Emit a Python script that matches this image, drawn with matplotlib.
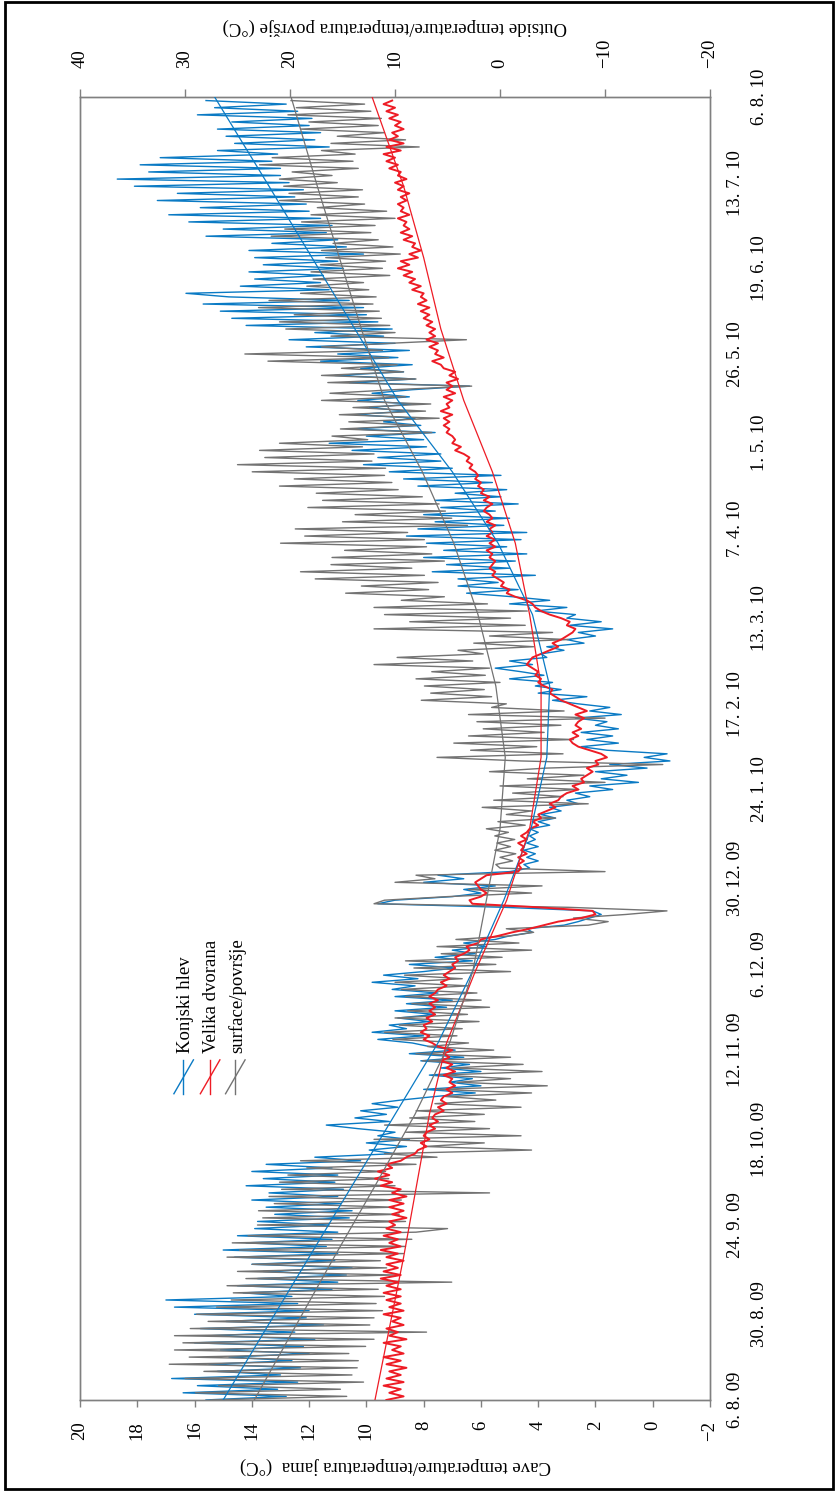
import numpy as np
import pandas as pd
import matplotlib
matplotlib.use("Agg")
import matplotlib.pyplot as plt
from matplotlib.lines import Line2D

# daily readings starting 6. 8. 2009 (cave in degC, surface in degC)
konjski_hlev = [
    15.6, 12.8, 16.4, 13.1, 15.9, 12.4, 16.8, 13.0, 15.2, 12.3,
    15.5, 12.6, 14.8, 12.0, 15.1, 12.2, 16.0, 11.8, 15.4, 12.5,
    15.8, 11.5, 14.9, 12.1, 16.0, 12.0, 16.7, 12.4, 17.0, 12.6,
    14.3, 11.2, 14.5, 11.0, 13.8, 10.7, 13.6, 10.5, 14.0, 11.1,
    14.6, 11.0, 15.0, 11.4, 14.2, 11.2, 14.5, 11.0, 13.9, 11.3,
    13.8, 10.6, 13.2, 10.5, 13.5, 10.9, 14.0, 11.0, 13.4, 10.8,
    14.2, 11.1, 13.6, 11.0, 14.0, 11.2, 13.5, 10.2, 11.8, 9.0,
    9.9, 8.6, 10.0, 8.5, 9.6, 9.0, 10.3, 11.4, 9.2, 10.4,
    9.3, 10.2, 8.9, 9.8, 8.8, 7.6, 6.2, 8.0, 6.0, 7.1,
    6.3, 7.8, 6.0, 7.4, 6.4, 8.1, 6.6, 8.5, 6.9, 7.8,
    8.4, 9.6, 8.0, 9.8, 8.6, 9.2, 7.8, 8.9, 7.6, 9.0,
    7.2, 8.6, 7.0, 9.0, 7.5, 9.1, 8.3, 9.8, 8.2, 9.4,
    8.0, 6.9, 8.5, 6.3, 7.6, 6.2, 7.0, 5.8, 6.6, 5.5,
    5.0, 4.2, 4.4, 3.1, 2.6, 2.2, 1.8, 2.1, 5.2, 9.6,
    9.0, 7.0, 6.0, 6.6, 5.5, 8.0, 6.6, 7.5, 5.0, 4.3,
    4.5, 4.0, 4.4, 4.1, 4.5, 4.0, 4.4, 4.1, 4.3, 4.0,
    4.3, 3.6, 4.0, 3.4, 3.9, 3.2, 3.6, 2.6, 3.0, 2.2,
    2.7, 1.4, 2.2, 0.5, 1.8, 0.9, 2.0, 0.2, 1.5, -0.6,
    0.3, -0.5, 1.6, 2.5, 1.2, 2.3, 1.4, 2.5, 1.2, 2.0,
    1.6, 2.7, 1.1, 2.2, 1.5, 2.6, 3.5, 2.3, 4.0, 3.2,
    4.1, 3.5, 5.0, 3.8, 4.6, 5.5, 4.2, 5.0, 3.7, 3.9,
    3.1, 3.7, 2.4, 3.0, 2.0, 2.6, 1.4, 2.9, 1.8, 3.0,
    2.7, 4.1, 3.0, 5.0, 3.6, 4.9, 6.5, 4.7, 6.8, 5.4,
    6.8, 4.1, 7.7, 5.0, 7.2, 4.8, 8.0, 4.4, 7.3, 5.1,
    7.9, 4.6, 8.6, 4.4, 8.2, 5.2, 7.6, 5.0, 8.0, 5.5,
    7.4, 4.7, 7.6, 5.3, 6.9, 5.1, 8.2, 5.6, 8.7, 5.3,
    9.2, 7.0, 10.1, 7.4, 9.6, 7.4, 10.5, 7.9, 11.3, 8.0,
    10.0, 7.6, 10.5, 8.1, 9.4, 8.3, 10.4, 8.6, 9.9, 8.4,
    10.3, 8.5, 9.8, 8.4, 6.4, 10.6, 8.3, 11.1, 8.7, 10.2,
    8.4, 11.6, 8.9, 11.0, 8.5, 12.1, 9.0, 12.7, 9.4, 11.8,
    9.1, 14.2, 9.6, 14.7, 10.0, 15.1, 10.1, 15.7, 10.6, 14.8,
    16.3, 11.3, 14.4, 11.6, 13.9, 11.5, 14.1, 10.8, 13.6, 11.0,
    13.9, 10.1, 14.1, 10.7, 13.3, 11.0, 15.6, 11.4, 15.0, 11.2,
    16.2, 11.6, 16.9, 12.0, 15.8, 12.1, 17.3, 12.5, 16.6, 12.2,
    18.1, 12.7, 18.7, 13.0, 17.6, 13.0, 17.9, 13.3, 17.2, 13.1,
    15.2, 11.3, 14.6, 11.8, 14.9, 11.6, 15.2, 12.0, 14.7, 11.9,
    15.9, 12.4, 15.3, 12.8, 15.6,
]

velika_dvorana = [
    9.3, 8.7, 9.2, 8.8, 9.4, 8.7, 9.3, 8.8, 9.2, 8.6,
    9.3, 8.8, 9.4, 8.7, 9.1, 8.8, 9.4, 8.6, 9.2, 8.9,
    9.3, 8.7, 9.1, 8.8, 9.4, 8.7, 9.2, 8.8, 9.3, 8.8,
    9.4, 8.8, 9.3, 8.9, 9.5, 8.8, 9.4, 8.9, 9.3, 8.7,
    9.3, 8.9, 9.5, 8.8, 9.2, 8.9, 9.4, 8.8, 9.3, 9.0,
    9.2, 8.6, 9.1, 8.7, 9.2, 8.7, 9.2, 8.6, 9.1, 8.8,
    9.5, 9.1, 9.7, 9.2, 9.6, 9.1, 9.3, 8.8, 8.6, 8.3,
    8.2, 7.9, 8.1, 7.8, 8.0, 7.9, 7.6, 7.8, 7.5, 7.7,
    7.6, 7.3, 7.5, 7.2, 7.4, 7.3, 7.0, 7.2, 6.9, 7.1,
    7.0, 7.3, 6.9, 7.2, 7.0, 7.4, 7.1, 7.3, 7.0, 7.5,
    7.7, 8.0, 7.8, 8.1, 7.9, 8.0, 7.7, 7.9, 7.6, 7.8,
    7.6, 7.8, 7.5, 7.8, 7.6, 7.5, 7.2, 7.4, 7.1, 7.3,
    7.1, 6.9, 7.0, 6.8, 6.9, 6.6, 6.4, 6.5, 6.1, 6.0,
    5.4, 4.9, 4.3, 3.8, 3.3, 2.5, 2.0, 2.1, 4.0, 6.3,
    6.4, 6.0, 5.8, 6.0, 6.1, 6.2, 6.0, 5.8, 4.7, 4.6,
    4.7, 4.5, 4.7, 4.4, 4.6, 4.5, 4.7, 4.4, 4.6, 4.4,
    4.3, 4.0, 4.2, 3.9, 4.0, 3.7, 3.4, 3.6, 3.3, 3.2,
    3.0, 2.6, 2.8, 2.4, 2.5, 2.3, 2.1, 2.3, 1.9, 2.0,
    1.6, 1.8, 2.2, 2.6, 2.8, 2.9, 2.6, 2.8, 2.5, 2.7,
    2.6, 2.4, 2.7, 2.3, 2.6, 2.9, 3.2, 3.4, 3.6, 3.5,
    3.8, 4.0, 3.9, 4.1, 4.0, 4.2, 4.4, 4.3, 4.2, 3.9,
    3.6, 3.3, 3.5, 3.2, 3.0, 2.8, 2.7, 3.0, 2.9, 3.2,
    3.6, 3.9, 4.1, 4.2, 4.4, 4.8, 5.1, 5.0, 5.3, 5.2,
    5.4, 5.6, 5.5, 5.7, 5.6, 5.5, 5.7, 5.6, 5.8, 5.5,
    5.7, 5.5, 5.8, 5.6, 5.7, 5.5, 5.8, 5.6, 5.7, 5.9,
    5.8, 5.6, 5.9, 5.7, 6.0, 5.9, 6.1, 6.0, 6.2, 6.1,
    6.2, 6.4, 6.3, 6.5, 6.4, 6.6, 6.9, 6.7, 7.0, 6.9,
    7.0, 7.2, 7.1, 7.3, 7.1, 7.3, 7.0, 7.4, 7.1, 7.2,
    7.0, 7.3, 6.9, 7.2, 7.0, 7.2, 6.8, 7.1, 6.9, 7.3,
    7.4, 7.7, 7.3, 7.6, 7.5, 7.8, 7.5, 7.9, 7.6, 7.8,
    7.6, 7.9, 7.7, 8.0, 7.8, 8.1, 7.8, 8.2, 7.9, 8.1,
    8.0, 8.4, 8.1, 8.5, 8.3, 8.7, 8.4, 8.9, 8.5, 8.8,
    8.2, 8.5, 8.1, 8.4, 8.3, 8.7, 8.4, 8.8, 8.5, 8.7,
    8.6, 8.9, 8.5, 8.8, 8.7, 8.9, 8.6, 8.8, 8.5, 8.9,
    8.7, 9.0, 8.6, 8.9, 8.8, 9.2, 8.9, 9.3, 9.0, 9.4,
    8.8, 9.3, 8.7, 9.2, 8.9, 9.1, 8.7, 9.0, 8.8, 9.2,
    8.9, 9.3, 9.0, 9.4, 9.1,
]

surface = [
    27.5, 14.6, 29.0, 15.2, 26.8, 13.0, 30.0, 14.1, 28.2, 13.6,
    31.5, 13.5, 29.6, 14.4, 31.0, 12.8, 30.2, 12.0, 31.0, 7.0,
    29.5, 12.4, 27.8, 12.0, 28.9, 11.2, 27.0, 11.8, 25.6, 11.0,
    25.4, 11.6, 26.0, 4.6, 24.2, 10.0, 25.0, 10.8, 23.6, 11.4,
    26.0, 9.2, 24.8, 9.0, 25.5, 8.4, 24.0, 8.0, 5.0, 23.1,
    9.0, 22.6, 9.6, 23.0, 10.1, 21.5, 9.4, 22.0, 1.0, 20.8,
    10.0, 21.0, 10.6, 20.2, 10.9, 18.4, 8.0, 19.0, 6.0, 11.0,
    -3.0, 7.2, 1.5, 12.0, -2.0, 9.0, 1.0, 11.0, 2.4, 8.6,
    1.5, 8.0, -2.0, 6.2, 0.4, 5.2, -3.0, 6.0, -4.5, 4.1,
    -1.0, 5.8, -4.0, 4.6, -2.2, 7.4, -1.0, 8.0, 0.6, 6.9,
    3.0, 10.2, 4.1, 11.0, 3.6, 9.6, 2.0, 10.0, 3.1, 8.8,
    1.0, 8.4, 1.8, 9.0, 2.2, 9.4, 3.0, 10.0, 3.6, 9.1,
    -1.0, 8.2, 0.4, 9.0, -0.2, 5.6, -3.0, 6.0, -1.8, 4.2,
    -1.0, -3.2, -0.6, -8.4, -10.3, -7.0, -12.0, -15.9, -6.5, 12.0,
    11.0, 5.0, -3.0, 3.0, -4.0, 10.0, 6.2, 8.0, -10.0, 0.0,
    0.4, -1.2, 0.0, -1.5, 0.5, -1.0, 0.3, -1.4, 0.5, -0.8,
    1.3, -2.4, 0.2, -5.3, -0.6, -3.0, 1.7, -8.4, 0.6, -6.0,
    -1.2, -7.5, 0.0, -10.0, -2.6, -8.0, 1.0, -4.4, -15.5, -2.0,
    6.0, -6.0, 2.8, -3.5, 4.4, -7.0, 3.0, -4.2, 1.6, -5.8,
    2.2, -10.0, 3.0, -6.1, 0.8, -0.6, 7.5, 0.8, 6.6, 1.5,
    7.2, 0.0, 8.0, 1.4, 6.5, 1.0, 12.0, 2.6, 9.8, 1.6,
    4.0, -3.2, 2.5, -6.5, 1.0, -5.0, 12.0, -2.4, 8.6, -1.0,
    11.0, -2.6, 12.0, 1.2, 9.4, 5.3, 14.7, 6.8, 13.2, 5.9,
    17.6, 7.2, 19.0, 8.4, 16.1, 5.3, 16.0, 6.5, 14.8, 7.0,
    20.9, 7.2, 18.6, 8.8, 19.5, 3.1, 15.0, 4.6, 13.8, 5.2,
    18.3, 5.8, 16.9, 7.4, 17.5, 9.7, 21.0, 10.3, 19.6, 11.0,
    23.6, 10.9, 25.0, 12.2, 22.4, 12.0, 22.9, 13.1, 21.0, 12.6,
    16.0, 6.5, 15.2, 8.0, 14.4, 5.8, 15.3, 7.1, 14.0, 6.6,
    17.0, 9.0, 16.2, 10.1, 2.7, 16.4, 8.0, 17.0, 9.2, 15.1,
    9.8, 22.1, 10.6, 24.3, 11.2, 17.0, 10.5, 3.2, 16.1, 10.0,
    20.4, 10.5, 21.0, 11.3, 19.6, 11.5, 23.0, 12.1, 22.0, 11.8,
    19.0, 12.5, 18.4, 13.0, 17.8, 10.5, 18.0, 11.2, 17.1, 10.9,
    16.6, 9.5, 17.0, 10.2, 15.9, 11.6, 21.8, 12.3, 20.5, 11.9,
    18.9, 10.0, 18.0, 10.8, 17.4, 12.9, 21.0, 13.5, 20.1, 13.1,
    20.6, 15.5, 21.0, 16.0, 19.8, 13.5, 22.9, 14.0, 21.7, 13.8,
    17.0, 7.7, 16.1, 9.0, 15.5, 11.0, 19.0, 11.6, 18.2, 11.3,
    20.2, 12.3, 19.4, 12.9, 19.9,
]

# trend lines (days after 6. 8. 09)
trend_days = [0, 20, 40, 60, 80, 100, 120, 140, 160, 180, 200, 220, 240, 260, 280,
              300, 320, 340, 365]
konjski_trend = [15.0, 13.5, 12.0, 10.5, 9.0, 7.5, 6.3, 5.2, 4.25, 3.7, 3.6, 4.2, 5.4,
                 7.0, 8.9, 10.4, 11.9, 13.4, 15.3]
dvorana_trend = [9.7, 9.2, 8.7, 8.25, 7.8, 7.2, 6.2, 5.1, 4.3, 3.9, 3.9, 4.3, 4.8,
                 5.6, 6.6, 7.4, 8.0, 8.7, 9.8]
surface_trend = [23.4, 19.6, 15.8, 11.9, 8.1, 4.8, 2.6, 1.3, 0.0, -0.5, 0.4, 2.1, 4.4,
                 7.4, 11.0, 13.2, 15.3, 17.4, 19.9]

date_labels = ["6. 8. 09", "30. 8. 09", "24. 9. 09", "18. 10. 09", "12. 11. 09",
               "6. 12. 09", "30. 12. 09", "24. 1. 10", "17. 2. 10", "13. 3. 10",
               "7. 4. 10", "1. 5. 10", "26. 5. 10", "19. 6. 10", "13. 7. 10", "6. 8. 10"]
cave_ticks = [20, 18, 16, 14, 12, 10, 8, 6, 4, 2, 0, -2]
outside_ticks = [40, 30, 20, 10, 0, -10, -20]

BLUE = "#0a7ac4"
RED = "#ee1c25"
GREY = "#737373"
AXIS = "#808080"

plt.rcParams['font.family'] = ['Liberation Serif', 'DejaVu Serif']
plt.rcParams['font.size'] = 13.5

start = pd.Timestamp("2009-08-06")
days = np.arange(len(konjski_hlev))
tick_days = [(pd.to_datetime(s.replace(" ", ""), format="%d.%m.%y") - start).days
             for s in date_labels]

fig = plt.figure(figsize=(8.37, 14.92), dpi=100)
ax = fig.add_axes([0.0956, 0.0617, 0.7527, 0.8733])
ax2 = ax.twiny()

# cave axis (bottom) and outside axis (top), both running right to left
ax.set_xlim(20, -2)
ax2.set_xlim(40, -20)
ax.set_ylim(0, tick_days[-1])

ax.plot(konjski_hlev, days, color=BLUE, lw=1.0, zorder=2)
ax2.plot(surface, days, color=GREY, lw=1.0, zorder=2)
ax2.plot(velika_dvorana, days, color=RED, lw=1.4, zorder=3, transform=ax.transData)

ax2.plot(konjski_trend, trend_days, color=BLUE, lw=0.9, zorder=4, transform=ax.transData)
ax2.plot(dvorana_trend, trend_days, color=RED, lw=0.9, zorder=4, transform=ax.transData)
ax2.plot(surface_trend, trend_days, color=GREY, lw=0.9, zorder=4)

for a in (ax, ax2):
    for sp in a.spines.values():
        sp.set_color(AXIS)
        sp.set_linewidth(1.0)

ax.set_xticks(cave_ticks)
ax.tick_params(axis="x", direction="out", length=5, width=1, color=AXIS, pad=10,
               labelrotation=90)
ax2.set_xticks(outside_ticks)
ax2.tick_params(axis="x", direction="out", length=6, width=1, color=AXIS, pad=15,
                labelrotation=90)
ax.set_yticks([])

# staggered date labels on the right
for i, (d, lbl) in enumerate(zip(tick_days, date_labels)):
    xoff = 1.04 if i % 2 == 0 else 1.079
    ax.text(xoff, d, lbl, transform=ax.get_yaxis_transform(), rotation=90,
            ha="center", va="center")

ax.set_xlabel("Cave temperature/temperatura jama  (°C)", rotation=180, labelpad=12)
ax2.set_xlabel("Outside temperature/temperatura površje (°C)", rotation=180, labelpad=5)

# legend keys drawn by hand (rotated layout)
names = ["Konjski hlev", "Velika dvorana", "surface/površje"]
cols = [BLUE, RED, GREY]
key_x = [0.164, 0.206, 0.246]
for name, c, kx in zip(names, cols, key_x):
    ax2.add_line(Line2D([kx, kx], [0.235, 0.261], color=c, lw=1.0,
                        transform=ax2.transAxes))
    ax2.add_line(Line2D([kx - 0.015, kx + 0.016], [0.235, 0.261], color=c, lw=1.0,
                        transform=ax2.transAxes))
    ax2.text(kx + 0.003, 0.266, name, transform=ax2.transAxes, rotation=90,
             ha="center", va="bottom")

fig.add_artist(plt.Rectangle((5 / 837, 3 / 1492), 828 / 837, 1487 / 1492,
                             transform=fig.transFigure, fill=False, lw=2, ec="black"))

fig.savefig("out.png", dpi=100)
